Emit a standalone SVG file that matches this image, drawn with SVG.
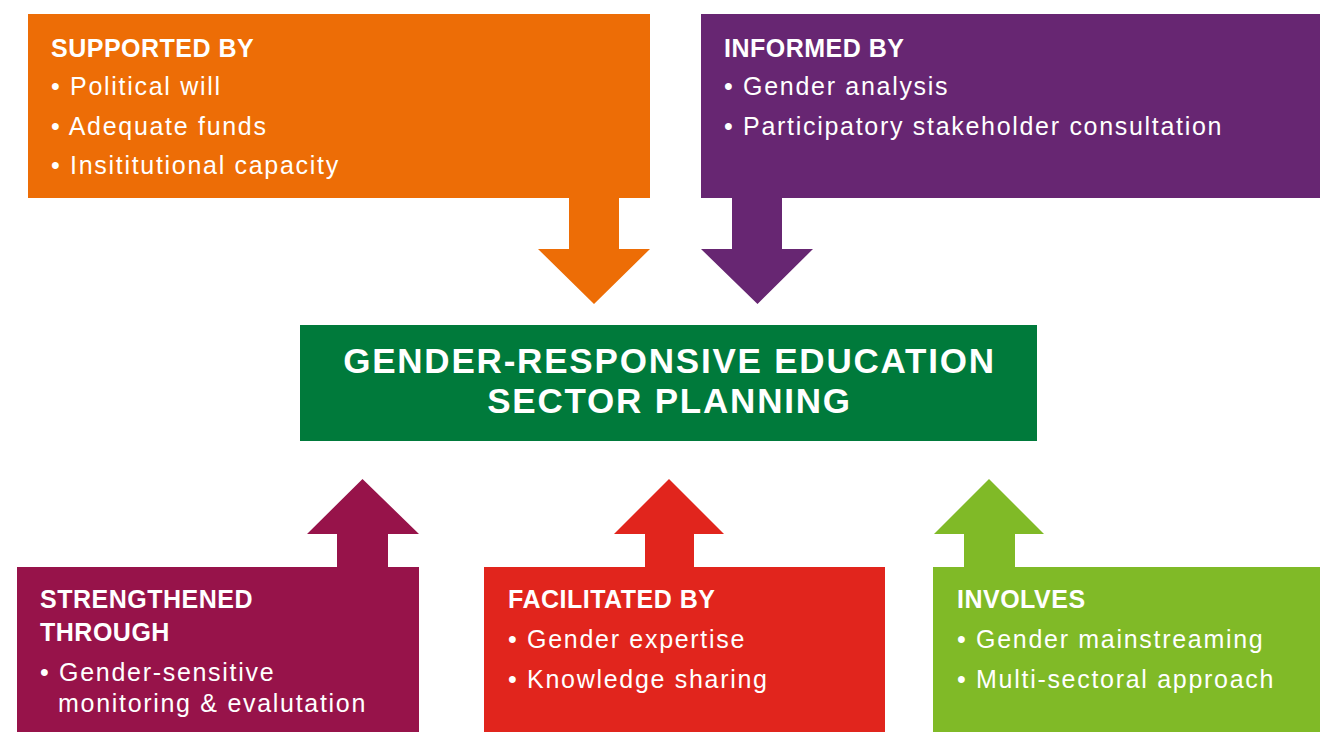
<svg xmlns="http://www.w3.org/2000/svg" width="1320" height="732" viewBox="0 0 1320 732">
<style>
  .h { font-family: "Liberation Sans", Arial, sans-serif; font-weight: bold; font-size: 25px; fill: #ffffff; letter-spacing: 0.5px; }
  .b { font-family: "Liberation Sans", Arial, sans-serif; font-size: 25px; fill: #ffffff; letter-spacing: 1.7px; }
  .t { font-family: "Liberation Sans", Arial, sans-serif; font-weight: bold; font-size: 35px; fill: #ffffff; letter-spacing: 1.8px; text-anchor: middle; }
  .orange { fill: #ED6D06; }
  .purple { fill: #672672; }
  .green { fill: #007A3B; }
  .maroon { fill: #97134A; }
  .red { fill: #E1251D; }
  .lime { fill: #80BA27; }
</style>
<rect width="1320" height="732" fill="#ffffff"/>
<g id="connectors">
  <polygon class="orange" points="569,196 619,196 619,249 650,249 594,304 538,249 569,249"/>
  <polygon class="purple" points="732,196 782,196 782,249 813,249 757.5,304 701,249 732,249"/>
  <polygon class="maroon" points="337,569 337,534 307,534 362.5,479 419,534 388,534 388,569"/>
  <polygon class="red" points="645,569 645,534 614,534 669,479 724,534 694,534 694,569"/>
  <polygon class="lime" points="964,569 964,534 934,534 989,479 1044,534 1015,534 1015,569"/>
</g>
<g id="supported-by">
  <rect class="orange" x="28" y="14" width="622" height="184"/>
  <text class="h" x="51" y="57">SUPPORTED BY</text>
  <text class="b" x="51" y="95">• Political will</text>
  <text class="b" x="51" y="135">• Adequate funds</text>
  <text class="b" x="51" y="174">• Insititutional capacity</text>
</g>
<g id="informed-by">
  <rect class="purple" x="701" y="14" width="619" height="184"/>
  <text class="h" x="724" y="57">INFORMED BY</text>
  <text class="b" x="724" y="95">• Gender analysis</text>
  <text class="b" x="724" y="135">• Participatory stakeholder consultation</text>
</g>
<g id="center">
  <rect class="green" x="300" y="325" width="737" height="116"/>
  <text class="t" x="669.5" y="373">GENDER-RESPONSIVE EDUCATION</text>
  <text class="t" x="669.5" y="413">SECTOR PLANNING</text>
</g>
<g id="strengthened-through">
  <rect class="maroon" x="17" y="567" width="402" height="165"/>
  <text class="h" x="40" y="608">STRENGTHENED</text>
  <text class="h" x="40" y="641">THROUGH</text>
  <text class="b" x="40" y="681">• Gender-sensitive</text>
  <text class="b" x="58" y="712">monitoring &amp; evalutation</text>
</g>
<g id="facilitated-by">
  <rect class="red" x="484" y="567" width="401" height="165"/>
  <text class="h" x="508" y="608">FACILITATED BY</text>
  <text class="b" x="508" y="648">• Gender expertise</text>
  <text class="b" x="508" y="688">• Knowledge sharing</text>
</g>
<g id="involves">
  <rect class="lime" x="933" y="567" width="387" height="165"/>
  <text class="h" x="957" y="608">INVOLVES</text>
  <text class="b" x="957" y="648">• Gender mainstreaming</text>
  <text class="b" x="957" y="688">• Multi-sectoral approach</text>
</g>
</svg>
